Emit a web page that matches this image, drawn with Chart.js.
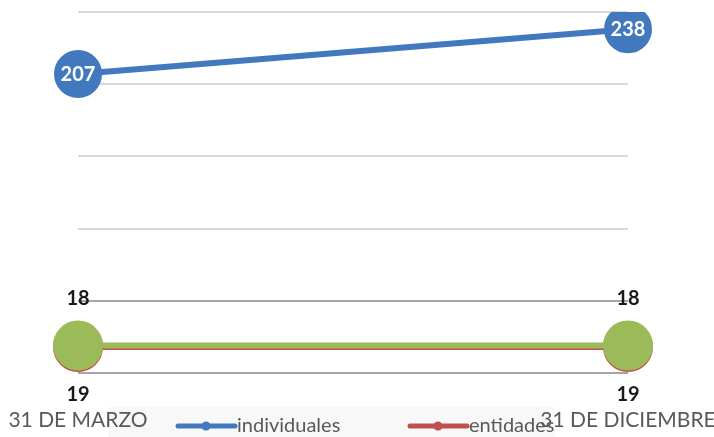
<!DOCTYPE html>
<html>
<head>
<meta charset="utf-8">
<script src="https://cdn.jsdelivr.net/npm/chart.js@4.4.1/dist/chart.umd.min.js"></script>
<style>
  body { margin: 0; background: #fff; }
  #wrap { width: 714px; height: 437px; }
</style>
</head>
<body>
<div id="wrap"><canvas id="lineChart" width="714" height="437"></canvas></div>
<script>
// Chart data
const categories = ['31 DE MARZO', '31 DE DICIEMBRE'];
const individuales = [207, 238];
const entidades = [18, 18];
const tercera = [19, 19];
const yTicks = [0, 50, 100, 150, 200, 250];

const FONT = 'Lato, "Open Sans", sans-serif';

// Draws the value labels next to each point
const valueLabels = {
    id: 'valueLabels',
    afterDatasetsDraw(chart) {
        const ctx = chart.ctx;
        chart.data.datasets.forEach((ds, i) => {
            const meta = chart.getDatasetMeta(i);
            meta.data.forEach((pt, j) => {
                let y = pt.y;
                if (ds.labelPos === 'top') y -= 48;
                if (ds.labelPos === 'bottom') y += 49;
                ctx.save();
                ctx.font = 'bold 20px ' + FONT;
                ctx.fillStyle = ds.labelColor;
                ctx.textAlign = 'center';
                ctx.textBaseline = 'middle';
                ctx.fillText(ds.data[j], pt.x, y);
                ctx.restore();
            });
        });
    }
};

// Legend drawn over the bottom of the chart, like the original:
// box first (under the axis labels), entries last
const bottomLegend = {
    id: 'bottomLegend',
    beforeDraw(chart) {
        const ctx = chart.ctx;
        ctx.save();
        ctx.fillStyle = '#f8f8f8';
        ctx.fillRect(108, 407, 447, 30);
        ctx.restore();
    },
    afterDraw(chart) {
        const ctx = chart.ctx;
        ctx.save();
        const items = [
            { text: 'individuales', color: '#4178be', x: 178 },
            { text: 'entidades', color: '#c0504d', x: 410 }
        ];
        items.forEach(it => {
            ctx.strokeStyle = it.color;
            ctx.lineWidth = 5;
            ctx.lineCap = 'round';
            ctx.beginPath();
            ctx.moveTo(it.x, 426);
            ctx.lineTo(it.x + 57, 426);
            ctx.stroke();
            ctx.fillStyle = it.color;
            ctx.beginPath();
            ctx.arc(it.x + 28, 426, 4.5, 0, Math.PI * 2);
            ctx.fill();
            ctx.fillStyle = '#595959';
            ctx.font = '20px ' + FONT;
            ctx.textBaseline = 'middle';
            ctx.fillText(it.text, it.x + 59, 426);
        });
        ctx.restore();
    }
};

const ctx = document.getElementById('lineChart').getContext('2d');
new Chart(ctx, {
    type: 'line',
    data: {
        labels: categories,
        datasets: [{
            label: 'individuales',
            data: individuales,
            borderColor: '#4178be',
            backgroundColor: '#4178be',
            borderWidth: 6,
            pointRadius: 21,
            pointHoverRadius: 21,
            labelColor: '#ffffff',
            labelPos: 'center',
            order: 0
        }, {
            label: 'entidades',
            data: entidades,
            borderColor: '#c0504d',
            backgroundColor: '#c0504d',
            borderWidth: 6,
            pointRadius: 22,
            pointHoverRadius: 22,
            labelColor: '#1a1a1a',
            labelPos: 'top',
            order: 2
        }, {
            label: '',
            data: tercera,
            borderColor: '#9bbb59',
            backgroundColor: '#9bbb59',
            borderWidth: 6,
            pointRadius: 22,
            pointHoverRadius: 22,
            labelColor: '#1a1a1a',
            labelPos: 'bottom',
            order: 1
        }]
    },
    options: {
        responsive: false,
        animation: false,
        devicePixelRatio: 1,
        layout: {
            autoPadding: false,
            padding: { left: 78, right: 86, top: 12, bottom: 4 }
        },
        plugins: {
            legend: { display: false },
            tooltip: { enabled: false }
        },
        scales: {
            x: {
                offset: false,
                grid: { display: false, drawTicks: false },
                border: { display: false },
                ticks: {
                    color: '#595959',
                    font: { family: FONT, size: 21 },
                    padding: 35,
                    maxRotation: 0,
                    autoSkip: false
                },
                afterFit: scale => {
                    // keep the plot edges where the original has them
                    scale.height = 60;
                    scale.paddingLeft = 0;
                    scale.paddingRight = 0;
                }
            },
            y: {
                display: true,
                min: yTicks[0],
                max: yTicks[yTicks.length - 1],
                afterBuildTicks: axis => { axis.ticks = yTicks.map(v => ({ value: v })); },
                afterFit: scale => { scale.width = 0; },
                grid: {
                    color: c => (c.tick && c.tick.value <= 50) ? '#a6a6a6' : '#d9d9d9',
                    lineWidth: 2,
                    drawTicks: false
                },
                border: { display: false },
                ticks: { display: false }
            }
        }
    },
    plugins: [valueLabels, bottomLegend]
});
</script>
</body>
</html>
